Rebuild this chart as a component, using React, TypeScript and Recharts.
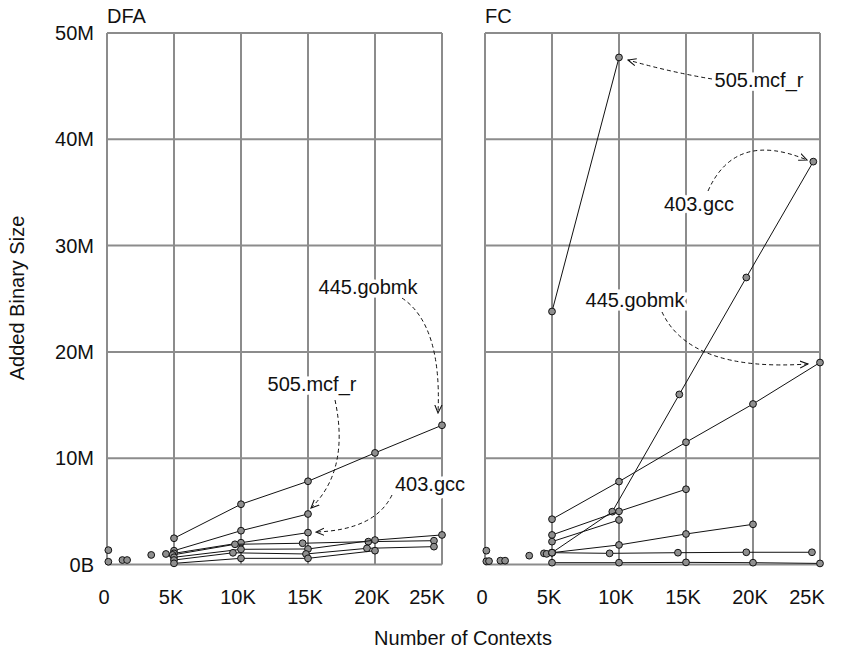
import { ScatterChart, Scatter, XAxis, YAxis, CartesianGrid } from "recharts";

const FONT = '"Liberation Sans", Arial, Helvetica, sans-serif';

// tick values
const xTicks = [0, 5000, 10000, 15000, 20000, 25000];
const yTicks = [0, 10, 20, 30, 40, 50];

// ---- DFA panel (x = contexts, y = added size in MB) ----
const dfaGobmk = [{ x: 5000, y: 2.47 }, { x: 10000, y: 5.67 }, { x: 15000, y: 7.83 }, { x: 20000, y: 10.5 }, { x: 25000, y: 13.1 }];
const dfaMcf = [{ x: 5000, y: 1.3 }, { x: 10000, y: 3.18 }, { x: 15000, y: 4.75 }];
const dfaGcc = [{ x: 5000, y: 1.05 }, { x: 10000, y: 2.05 }, { x: 15000, y: 3.0 }];
const dfaS4 = [{ x: 4900, y: 0.9 }, { x: 9550, y: 1.9 }, { x: 14600, y: 2.0 }, { x: 19500, y: 2.15 }, { x: 24400, y: 2.24 }];
const dfaS5 = [{ x: 5000, y: 0.68 }, { x: 10000, y: 1.43 }, { x: 15000, y: 1.46 }, { x: 20000, y: 2.3 }, { x: 25000, y: 2.78 }];
const dfaS6 = [{ x: 5000, y: 0.42 }, { x: 9400, y: 1.1 }, { x: 14850, y: 0.99 }, { x: 19400, y: 1.52 }, { x: 24400, y: 1.68 }];
const dfaS7 = [{ x: 5000, y: 0.11 }, { x: 10000, y: 0.58 }, { x: 15000, y: 0.58 }, { x: 20000, y: 1.3 }];
const dfaSmall = [{ x: 100, y: 1.35 }, { x: 100, y: 0.26 }, { x: 1150, y: 0.42 }, { x: 1500, y: 0.42 }, { x: 3300, y: 0.9 }, { x: 4400, y: 0.99 }];

// ---- FC panel ----
const fcMcf = [{ x: 5000, y: 23.8 }, { x: 10000, y: 47.7 }];
const fcGcc = [{ x: 5000, y: 1.11 }, { x: 9500, y: 4.97 }, { x: 14500, y: 16.0 }, { x: 19500, y: 27.0 }, { x: 24500, y: 37.9 }];
const fcGobmk = [{ x: 5000, y: 4.26 }, { x: 10000, y: 7.8 }, { x: 15000, y: 11.5 }, { x: 20000, y: 15.1 }, { x: 25000, y: 19.0 }];
const fcS4 = [{ x: 5000, y: 2.78 }, { x: 10000, y: 5.0 }, { x: 15000, y: 7.08 }];
const fcS5 = [{ x: 5000, y: 2.15 }, { x: 10000, y: 4.19 }];
const fcS6 = [{ x: 5000, y: 1.11 }, { x: 10000, y: 1.84 }, { x: 15000, y: 2.87 }, { x: 20000, y: 3.78 }];
const fcS7 = [{ x: 5000, y: 1.11 }, { x: 9300, y: 1.05 }, { x: 14400, y: 1.11 }, { x: 19500, y: 1.15 }, { x: 24400, y: 1.15 }];
const fcS8 = [{ x: 5000, y: 0.17 }, { x: 10000, y: 0.17 }, { x: 15000, y: 0.2 }, { x: 20000, y: 0.17 }, { x: 25000, y: 0.1 }];
const fcSmall = [{ x: 100, y: 1.3 }, { x: 100, y: 0.3 }, { x: 300, y: 0.32 }, { x: 1150, y: 0.36 }, { x: 1500, y: 0.36 }, { x: 3300, y: 0.83 }, { x: 4400, y: 1.05 }, { x: 4600, y: 1.0 }];

const dfaSeries = [dfaGobmk, dfaMcf, dfaGcc, dfaS4, dfaS5, dfaS6, dfaS7];
const fcSeries = [fcMcf, fcGcc, fcGobmk, fcS4, fcS5, fcS6, fcS7, fcS8];

const dot = (p: any) => (
    <circle cx={p.cx} cy={p.cy} r={3.4} fill="#8f8f8f" stroke="#111" strokeWidth={1} />
);

const fmtX = (v: number) => (v === 0 ? "0" : `${v / 1000}K`);
const fmtY = (v: number) => (v === 0 ? "0B" : `${v}M`);

const XTick = (p: any) => (
    <text x={p.x - 3} y={p.y} dy="0.71em" textAnchor="middle" fill="#111" fontSize={20} fontFamily={FONT}>
        {fmtX(p.payload.value)}
    </text>
);

const Panel = ({ series, small, showY }: { series: any[][]; small: any[]; showY: boolean }) => (
    <ScatterChart
        width={showY ? 450 : 380}
        height={653}
        margin={{ top: 33, right: showY ? 8 : 10, bottom: 48.5, left: showY ? 0 : 35 }}
    >
        <CartesianGrid stroke="#8c8c8c" strokeWidth={2} />
        <XAxis
            type="number"
            dataKey="x"
            domain={[0, 25000]}
            ticks={xTicks}
            axisLine={false}
            tickLine={false}
            tickSize={0}
            tickMargin={25}
            height={40}
            tick={XTick}
        />
        <YAxis
            type="number"
            dataKey="y"
            domain={[0, 50]}
            ticks={yTicks}
            hide={!showY}
            width={107}
            axisLine={false}
            tickLine={false}
            tickSize={0}
            tickMargin={13}
            tickFormatter={fmtY}
            tick={{ fill: "#111", fontSize: 20, fontFamily: FONT }}
        />
        <Scatter data={small} shape={dot} isAnimationActive={false} />
        {series.map((d, i) => (
            <Scatter
                key={i}
                data={d}
                line={{ stroke: "#111", strokeWidth: 1 }}
                lineType="joint"
                shape={dot}
                isAnimationActive={false}
            />
        ))}
    </ScatterChart>
);

const Note = ({ x, y, label }: { x: number; y: number; label: string }) => (
    <text
        x={x}
        y={y}
        textAnchor="middle"
        fontSize={20}
        fontFamily={FONT}
        fill="#111"
        stroke="#fff"
        strokeWidth={7}
        paintOrder="stroke"
    >
        {label}
    </text>
);

export default function App() {
    return (
        <div style={{ position: "absolute", left: 0, top: 0, width: 844, height: 653, background: "#fff" }}>
            <div style={{ position: "absolute", left: 0, top: 0 }}>
                <Panel series={dfaSeries} small={dfaSmall} showY />
            </div>
            <div style={{ position: "absolute", left: 450, top: 0 }}>
                <Panel series={fcSeries} small={fcSmall} showY={false} />
            </div>
            <svg width={844} height={653} style={{ position: "absolute", left: 0, top: 0, pointerEvents: "none" }}>
                <defs>
                    <marker id="ah" viewBox="0 0 10 10" refX="9" refY="5" markerWidth="9" markerHeight="9" orient="auto">
                        <path d="M0,1 L9,5 L0,9" fill="none" stroke="#111" strokeWidth={1.2} />
                    </marker>
                </defs>
                <g fill="none" stroke="#111" strokeWidth={1} strokeDasharray="4 3" markerEnd="url(#ah)">
                    <path d="M402,298 Q442,325 438,413" />
                    <path d="M335,400 Q350,470 311,508" />
                    <path d="M392,495 Q375,530 316,532" />
                    <path d="M712,79 Q670,72 628,60" />
                    <path d="M708,191 Q735,130 807,160" />
                    <path d="M662,312 Q690,372 808,364" />
                </g>
                <Note x={368} y={294} label="445.gobmk" />
                <Note x={312} y={391} label="505.mcf_r" />
                <Note x={430} y={491} label="403.gcc" />
                <Note x={759} y={87} label="505.mcf_r" />
                <Note x={699} y={211} label="403.gcc" />
                <Note x={635} y={307} label="445.gobmk" />
                <text x={107} y={23} fontSize={20} fontFamily={FONT} fill="#111">DFA</text>
                <text x={485} y={23} fontSize={20} fontFamily={FONT} fill="#111">FC</text>
                <text x={463} y={645} textAnchor="middle" fontSize={20} fontFamily={FONT} fill="#111">
                    Number of Contexts
                </text>
                <text
                    x={0}
                    y={0}
                    transform="translate(24,298) rotate(-90)"
                    textAnchor="middle"
                    fontSize={20}
                    fontFamily={FONT}
                    fill="#111"
                >
                    Added Binary Size
                </text>
            </svg>
        </div>
    );
}
